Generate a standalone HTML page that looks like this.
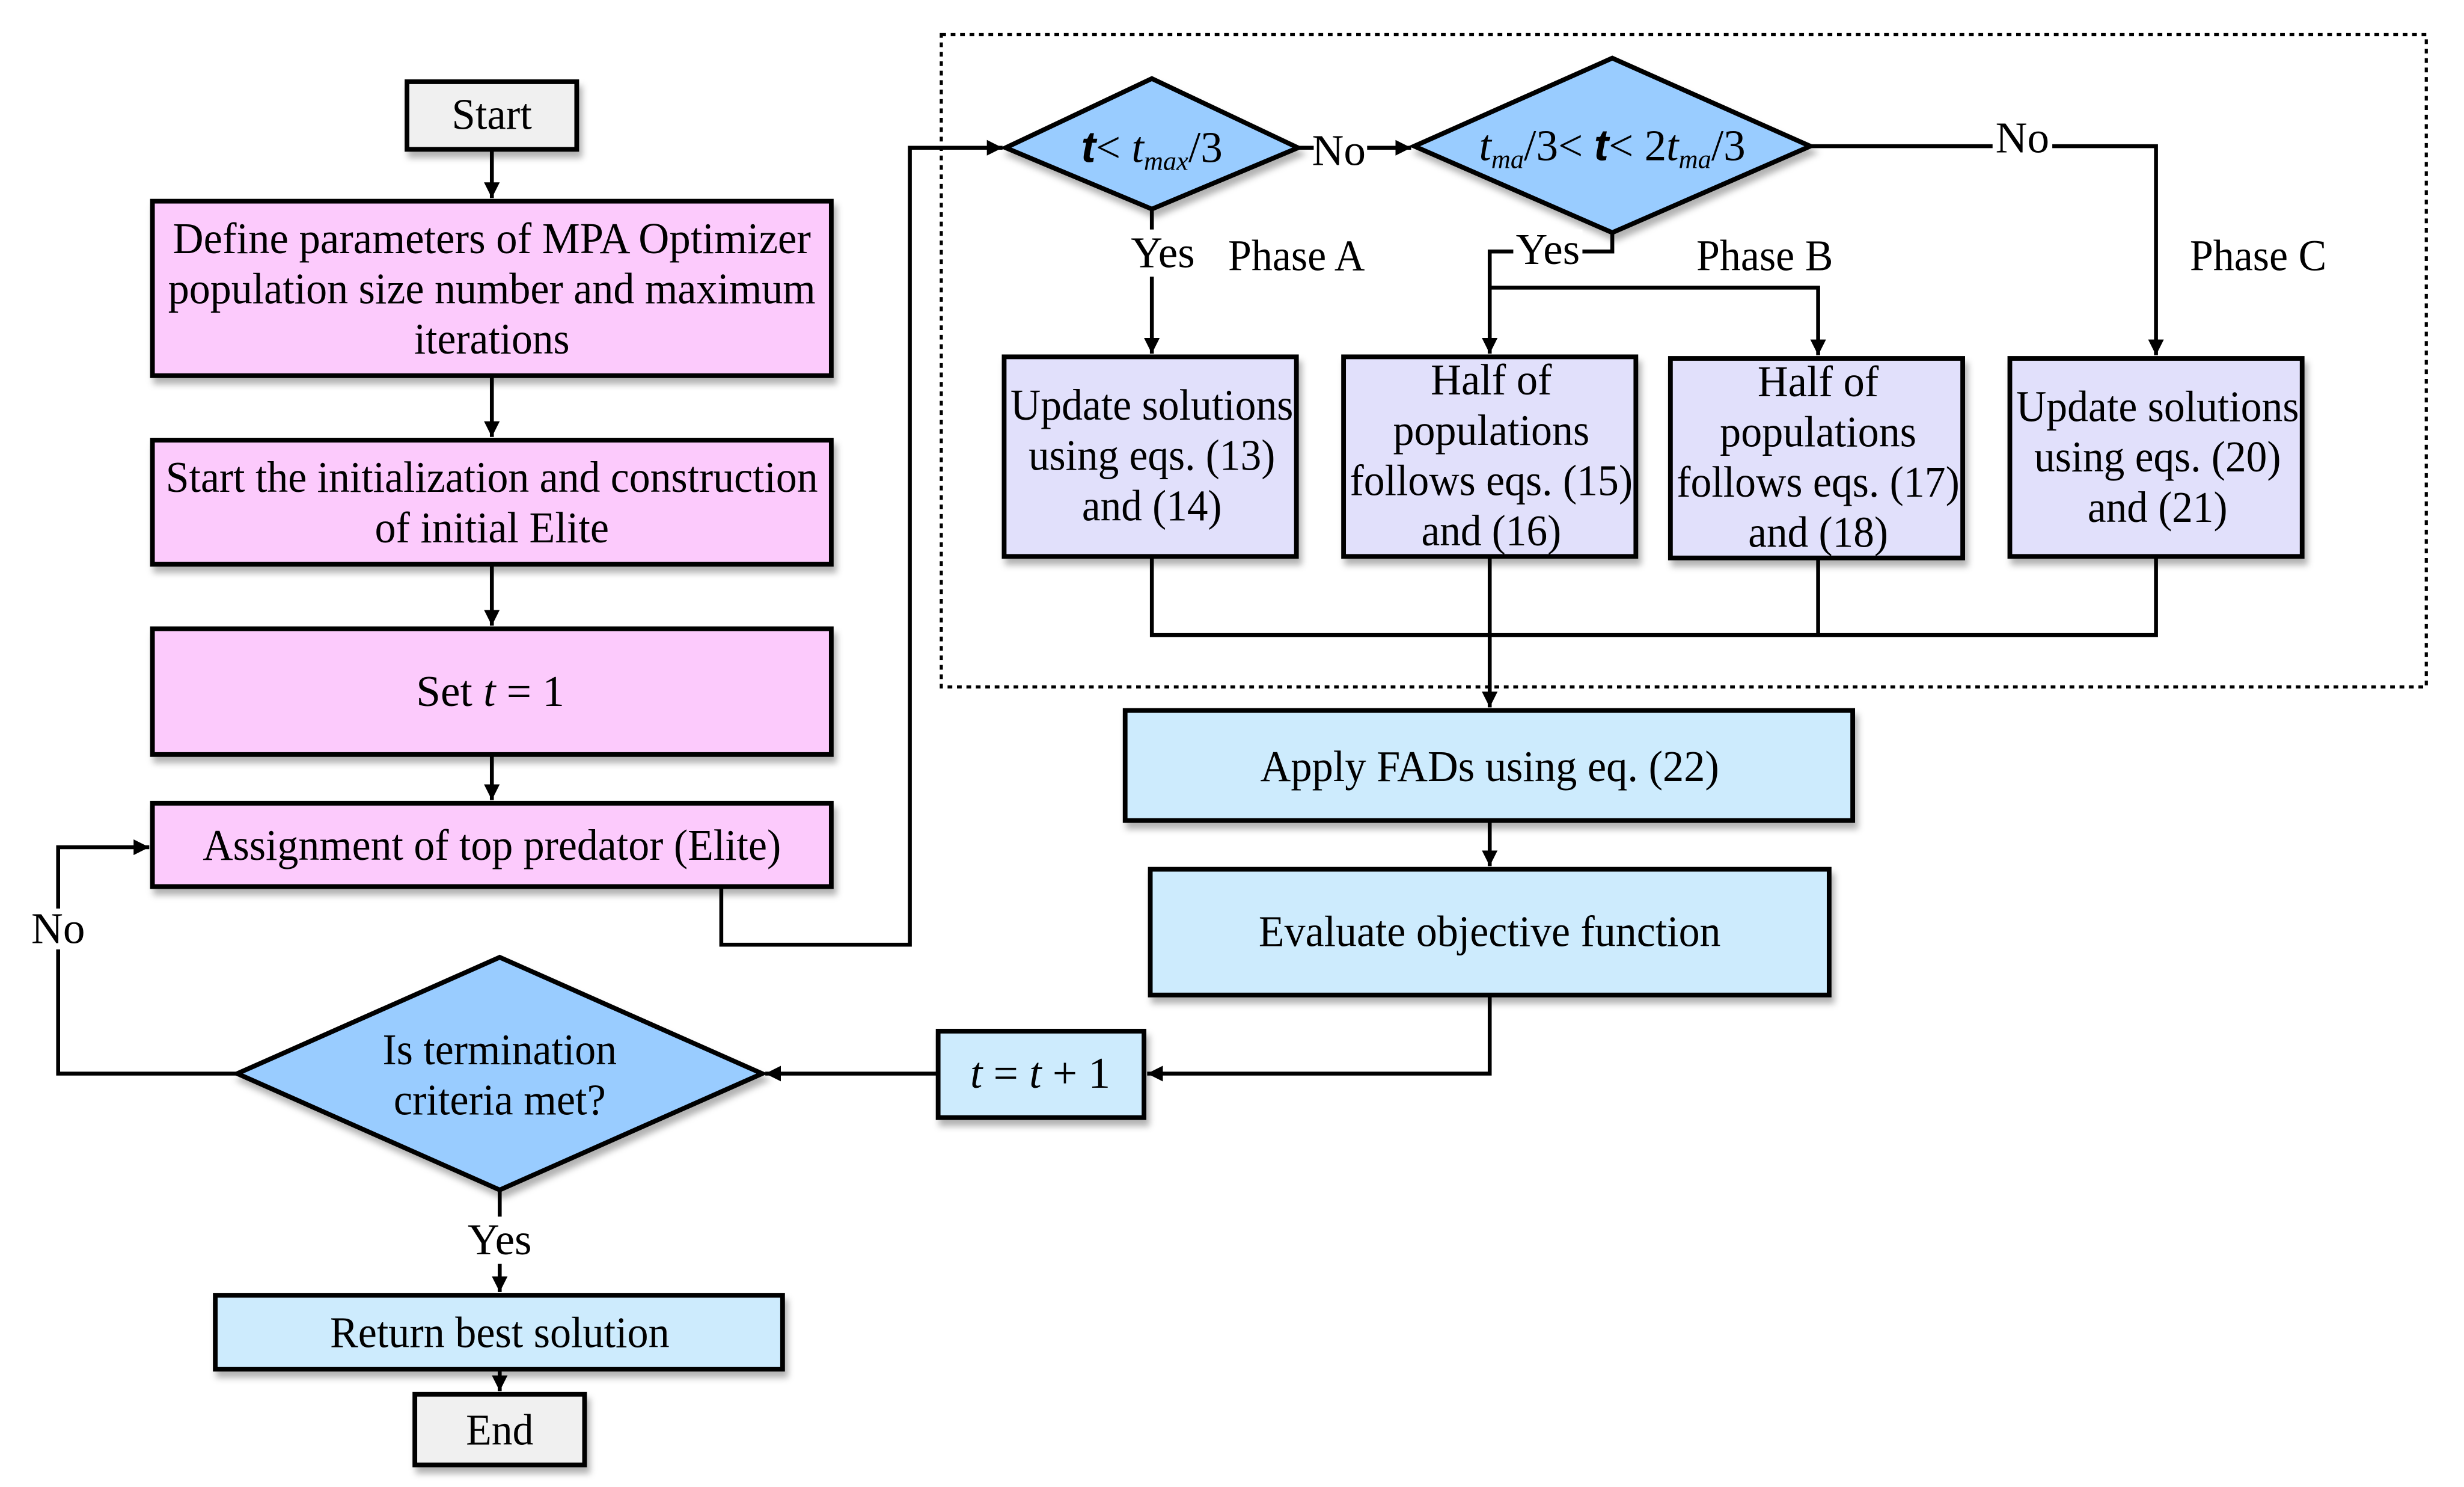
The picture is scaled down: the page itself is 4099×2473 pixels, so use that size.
<!DOCTYPE html>
<html><head><meta charset="utf-8"><style>
html,body{margin:0;padding:0;background:#fff;}
svg{display:block;}
text{font-family:"Liberation Serif",serif;font-size:28px;fill:#000;text-anchor:middle;}
</style></head><body>
<svg width="4099" height="2473" viewBox="0 0 1568 946" preserveAspectRatio="none" xmlns="http://www.w3.org/2000/svg">
<defs>
<marker id="a" viewBox="0 0 10 10" refX="10" refY="5" markerWidth="4" markerHeight="4" orient="auto" markerUnits="strokeWidth"><path d="M0,0 L10,5 L0,10 z" fill="#000"/></marker>
<filter id="s" x="-10%" y="-10%" width="130%" height="140%"><feDropShadow dx="2" dy="4" stdDeviation="2" flood-color="#000" flood-opacity="0.3"/></filter>
</defs>
<rect x="599" y="22" width="945" height="415" fill="none" stroke="#000" stroke-width="2" stroke-dasharray="3,3"/>
<g stroke="#000" stroke-width="3" filter="url(#s)">
<rect x="259" y="52" width="108" height="43" fill="#f0f0f0"/>
<rect x="97" y="128" width="432" height="111" fill="#fccafc"/>
<rect x="97" y="280" width="432" height="79" fill="#fccafc"/>
<rect x="97" y="400" width="432" height="80" fill="#fccafc"/>
<rect x="97" y="511" width="432" height="53" fill="#fccafc"/>
<polygon points="151,683 318,609 485,683 318,757" fill="#99ccff"/>
<rect x="137" y="824" width="361" height="47" fill="#cdebfd"/>
<rect x="264" y="887" width="108" height="45" fill="#f0f0f0"/>
<polygon points="640,94 733,50 826,94 733,133" fill="#99ccff"/>
<polygon points="900,93 1026,37 1152,93 1026,148" fill="#99ccff"/>
<rect x="639" y="227" width="186" height="127" fill="#e1e0fb"/>
<rect x="855" y="227" width="186" height="127" fill="#e1e0fb"/>
<rect x="1063" y="228" width="186" height="127" fill="#e1e0fb"/>
<rect x="1279" y="228" width="186" height="126" fill="#e1e0fb"/>
<rect x="716" y="452" width="463" height="70" fill="#cdebfd"/>
<rect x="732" y="553" width="432" height="80" fill="#cdebfd"/>
<rect x="597" y="656" width="131" height="55" fill="#cdebfd"/>
</g>
<g stroke="#000" stroke-width="2.5" fill="none">
<path d="M313,95 V126" marker-end="url(#a)"/>
<path d="M313,239 V278" marker-end="url(#a)"/>
<path d="M313,359 V398" marker-end="url(#a)"/>
<path d="M313,480 V509" marker-end="url(#a)"/>
<path d="M151,683 H37 V539 H95" marker-end="url(#a)"/>
<path d="M318,757 V822" marker-end="url(#a)"/>
<path d="M318,871 V885" marker-end="url(#a)"/>
<path d="M459,564 V601 H579 V94 H638" marker-end="url(#a)"/>
<path d="M826,94 H898" marker-end="url(#a)"/>
<path d="M1152,93 H1372 V226" marker-end="url(#a)"/>
<path d="M733,133 V225" marker-end="url(#a)"/>
<path d="M1026,148 V160 H948 V225" marker-end="url(#a)"/>
<path d="M948,183 H1157 V226" marker-end="url(#a)"/>
<path d="M733,354 V404 H1372 V354"/>
<path d="M1157,355 V404"/>
<path d="M948,354 V450" marker-end="url(#a)"/>
<path d="M948,522 V551" marker-end="url(#a)"/>
<path d="M948,633 V683 H730" marker-end="url(#a)"/>
<path d="M597,683 H487" marker-end="url(#a)"/>
</g>
<g>
<rect x="20" y="578" width="34" height="26" fill="#fff"/>
<rect x="836" y="82" width="34" height="26" fill="#fff"/>
<rect x="1268" y="76" width="38" height="26" fill="#fff"/>
<rect x="716" y="146" width="48" height="30" fill="#fff"/>
<rect x="963" y="146" width="44" height="28" fill="#fff"/>
<rect x="296" y="774" width="46" height="30" fill="#fff"/>
</g>
<text x="313" y="82" textLength="51" lengthAdjust="spacingAndGlyphs">Start</text>
<text x="313" y="161" textLength="406" lengthAdjust="spacingAndGlyphs">Define parameters of MPA Optimizer</text>
<text x="313" y="193" textLength="412" lengthAdjust="spacingAndGlyphs">population size number and maximum</text>
<text x="313" y="225" textLength="99" lengthAdjust="spacingAndGlyphs">iterations</text>
<text x="313" y="313" textLength="415" lengthAdjust="spacingAndGlyphs">Start the initialization and construction</text>
<text x="313" y="345" textLength="149" lengthAdjust="spacingAndGlyphs">of initial Elite</text>
<text x="312" y="449">Set <tspan font-style="italic">t</tspan> = 1</text>
<text x="313" y="547" textLength="368" lengthAdjust="spacingAndGlyphs">Assignment of top predator (Elite)</text>
<text x="318" y="677" textLength="149" lengthAdjust="spacingAndGlyphs">Is termination</text>
<text x="318" y="709" textLength="135" lengthAdjust="spacingAndGlyphs">criteria met?</text>
<text x="37" y="600">No</text>
<text x="318" y="798">Yes</text>
<text x="318" y="857" textLength="216" lengthAdjust="spacingAndGlyphs">Return best solution</text>
<text x="318" y="919" textLength="43" lengthAdjust="spacingAndGlyphs">End</text>
<text x="733" y="103"><tspan font-family="Liberation Sans,sans-serif" font-weight="bold" font-style="italic">t</tspan>&lt; <tspan font-style="italic">t</tspan><tspan font-style="italic" font-size="17" dy="5">max</tspan><tspan dy="-5">/3</tspan></text>
<text x="852" y="105">No</text>
<text x="1026" y="102"><tspan font-style="italic">t</tspan><tspan font-style="italic" font-size="17" dy="5">ma</tspan><tspan dy="-5">/3&lt; </tspan><tspan font-family="Liberation Sans,sans-serif" font-weight="bold" font-style="italic">t</tspan>&lt; 2<tspan font-style="italic">t</tspan><tspan font-style="italic" font-size="17" dy="5">ma</tspan><tspan dy="-5">/3</tspan></text>
<text x="1287" y="97">No</text>
<text x="740" y="170">Yes</text>
<text x="825" y="172" textLength="87" lengthAdjust="spacingAndGlyphs">Phase A</text>
<text x="985" y="168">Yes</text>
<text x="1123" y="172" textLength="87" lengthAdjust="spacingAndGlyphs">Phase B</text>
<text x="1437" y="172" textLength="87" lengthAdjust="spacingAndGlyphs">Phase C</text>
<text x="733" y="267" textLength="180" lengthAdjust="spacingAndGlyphs">Update solutions</text>
<text x="733" y="299" textLength="157" lengthAdjust="spacingAndGlyphs">using eqs. (13)</text>
<text x="733" y="331" textLength="89" lengthAdjust="spacingAndGlyphs">and (14)</text>
<text x="949" y="251" textLength="77" lengthAdjust="spacingAndGlyphs">Half of</text>
<text x="949" y="283" textLength="125" lengthAdjust="spacingAndGlyphs">populations</text>
<text x="949" y="315" textLength="180" lengthAdjust="spacingAndGlyphs">follows eqs. (15)</text>
<text x="949" y="347" textLength="89" lengthAdjust="spacingAndGlyphs">and (16)</text>
<text x="1157" y="252" textLength="77" lengthAdjust="spacingAndGlyphs">Half of</text>
<text x="1157" y="284" textLength="125" lengthAdjust="spacingAndGlyphs">populations</text>
<text x="1157" y="316" textLength="180" lengthAdjust="spacingAndGlyphs">follows eqs. (17)</text>
<text x="1157" y="348" textLength="89" lengthAdjust="spacingAndGlyphs">and (18)</text>
<text x="1373" y="268" textLength="180" lengthAdjust="spacingAndGlyphs">Update solutions</text>
<text x="1373" y="300" textLength="157" lengthAdjust="spacingAndGlyphs">using eqs. (20)</text>
<text x="1373" y="332" textLength="89" lengthAdjust="spacingAndGlyphs">and (21)</text>
<text x="948" y="497" textLength="292" lengthAdjust="spacingAndGlyphs">Apply FADs using eq. (22)</text>
<text x="948" y="602" textLength="294" lengthAdjust="spacingAndGlyphs">Evaluate objective function</text>
<text x="662" y="692"><tspan font-style="italic">t</tspan> = <tspan font-style="italic">t</tspan> + 1</text>
</svg>
</body></html>
